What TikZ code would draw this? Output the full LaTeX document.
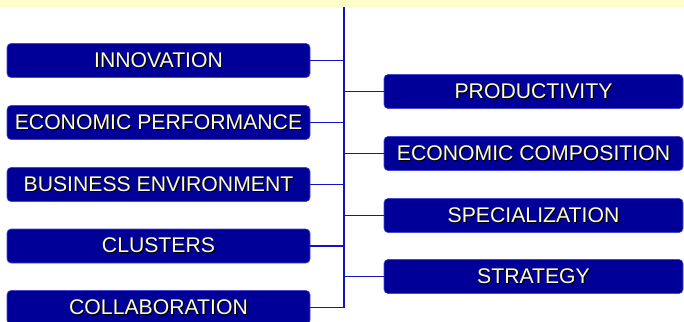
\documentclass[tikz,border=0pt]{standalone}
\usepackage{fontspec}
\setmainfont{Liberation Sans}

\definecolor{topicblue}{RGB}{0,0,153}
\definecolor{edgeblue}{RGB}{70,70,210}
\definecolor{spineblue}{RGB}{20,20,190}
\definecolor{paleyellow}{RGB}{255,255,204}

% label with a small dark shadow behind it
\newcommand{\shadowed}[1]{\makebox[0pt][l]{\hspace{1pt}\raisebox{-1pt}{\color{black}#1}}#1}

\begin{document}
\begin{tikzpicture}[x=1pt, y=-1pt,
  topic/.style={draw=edgeblue, line width=0.6pt, fill=topicblue, rounded corners=4pt,
    minimum height=34pt, inner sep=0pt, text=paleyellow, font=\fontsize{21.2}{25}\selectfont},
  lefttopic/.style={topic, minimum width=303pt},
  righttopic/.style={topic, minimum width=299pt},
  spine/.style={draw=spineblue, line width=1.8pt}]

\useasboundingbox (0,0) rectangle (684,321);
\fill[paleyellow] (0,0) rectangle (684,7);

% left column
\node[lefttopic] (innov) at (158.5,60.5) {\shadowed{INNOVATION}};
\node[lefttopic] (perf) at (158.5,122.5) {\shadowed{ECONOMIC PERFORMANCE}};
\node[lefttopic] (busenv) at (158.5,184.5) {\shadowed{BUSINESS ENVIRONMENT}};
\node[lefttopic] (clusters) at (158.5,246) {\shadowed{CLUSTERS}};
\node[lefttopic] (collab) at (158.5,307.5) {\shadowed{COLLABORATION}};

% right column
\node[righttopic] (prod) at (533.5,91.5) {\shadowed{PRODUCTIVITY}};
\node[righttopic] (comp) at (533.5,153.5) {\shadowed{ECONOMIC COMPOSITION}};
\node[righttopic] (spec) at (533.5,215.5) {\shadowed{SPECIALIZATION}};
\node[righttopic] (strat) at (533.5,276.5) {\shadowed{STRATEGY}};

% vertical spine
\coordinate (top) at (344,7);
\coordinate (bottom) at (344,307.5);
\draw[spine] (top) -- (bottom);

\foreach \n in {innov,perf,busenv,clusters,collab}
  \draw[spine] (\n.east) -- (\n.east -| top);
\foreach \n in {prod,comp,spec,strat}
  \draw[spine] (\n.west -| top) -- (\n.west);
\end{tikzpicture}
\end{document}
